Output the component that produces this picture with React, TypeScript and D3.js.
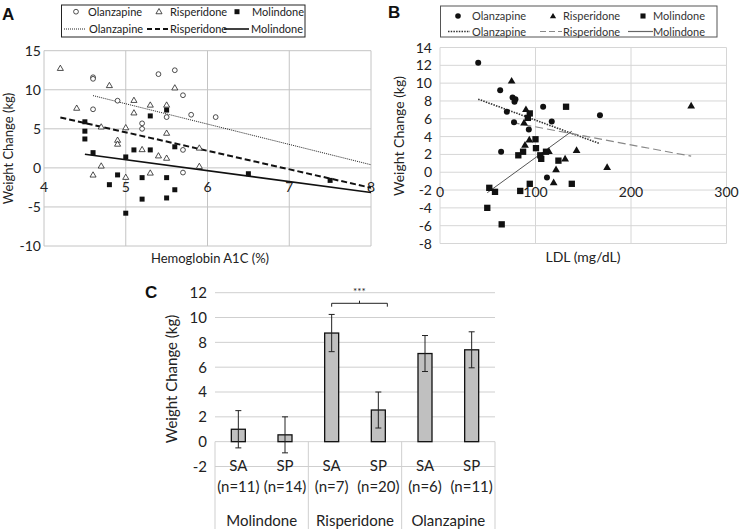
import React from 'react';
import * as d3 from 'd3';

const FONT = "Lato, 'Open Sans', sans-serif";
const TXT = '#222';

// ---------- Panel A: Hemoglobin A1C vs weight change ----------
const olzA: [number, number][] = [
  [4.6, 11.6], [4.6, 11.4], [5.4, 12.0], [5.6, 12.5], [5.7, 9.3], [4.9, 8.6], [4.6, 7.5],
  [5.5, 6.5], [5.8, 6.8], [6.1, 6.5], [5.2, 5.7], [5.2, 5.0], [5.7, 2.3], [5.7, -0.6],
];
const risA: [number, number][] = [
  [4.2, 12.7], [4.8, 10.5], [5.6, 10.2], [5.1, 8.6], [5.3, 8.0], [5.5, 8.0], [4.4, 7.6],
  [5.1, 7.0], [5.0, 5.1], [4.7, 5.2], [5.5, 4.4], [4.9, 3.5], [4.9, 3.0], [5.9, 2.5],
  [5.2, 2.3], [5.4, 1.5], [5.5, 1.2], [4.7, 0.2], [5.9, 0.15], [4.6, -0.95], [5.0, -1.25], [5.3, -0.7],
];
const molA: [number, number][] = [
  [5.5, 7.4], [5.3, 6.65], [4.5, 5.9], [4.5, 4.7], [4.5, 3.7], [5.6, 2.7], [4.6, 1.95],
  [5.1, 2.3], [5.3, 2.3], [5.0, 1.4], [4.9, -0.9], [5.2, -1.25], [5.5, -1.25], [4.8, -2.15],
  [5.6, -2.8], [5.2, -4.0], [5.5, -3.85], [5.0, -5.8], [6.5, -0.75], [7.5, -1.6],
];
const trendOlzA: [number, number][] = [[4.6, 9.25], [8, 0.4]];
const trendRisA: [number, number][] = [[4.2, 6.45], [8, -2.55]];
const trendMolA: [number, number][] = [[4.5, 1.75], [8, -3.15]];
const ticksAx = [4, 5, 6, 7, 8];
const ticksAy = [-10, -5, 0, 5, 10, 15];

// ---------- Panel B: LDL vs weight change ----------
const olzB: [number, number][] = [
  [40, 12.3], [63, 9.2], [76, 8.4], [79, 8.2], [78, 7.9], [108, 7.35], [70, 6.8], [117, 5.7],
  [77.5, 5.6], [93, 4.8], [167.5, 6.4], [64, 2.3], [112, -0.6],
];
const risB: [number, number][] = [
  [75, 10.2], [90, 7.0], [88, 5.5], [93.5, 3.6], [89, 3.0], [114, 2.3], [143, 2.4],
  [131, 1.45], [121.5, 0.25], [119, -1.2], [175, 0.5], [263, 7.4],
];
const molB: [number, number][] = [
  [132, 7.35], [94, 6.6], [92, 6.1], [100, 3.7], [82, 1.9], [87, 2.3], [100.5, 2.7], [105, 1.9],
  [106, 1.5], [111, 2.3], [124, 1.3], [94, -1.3], [138, -1.3], [51.6, -1.75], [57.6, -2.2],
  [84, -2.1], [49.5, -4.0], [64.6, -5.85],
];
const trendOlzB: [number, number][] = [[40, 8.2], [167.5, 3.2]];
const trendRisB: [number, number][] = [[75, 5.6], [263, 1.8]];
const trendMolB: [number, number][] = [[49.5, -2.3], [138, 4.6]];
const ticksBx = [0, 100, 200, 300];
const ticksBy = [-8, -6, -4, -2, 0, 2, 4, 6, 8, 10, 12, 14];

// ---------- Panel C: bar chart ----------
const subC = ['SA', 'SP', 'SA', 'SP', 'SA', 'SP'];
const nC = ['(n=11)', '(n=14)', '(n=7)', '(n=20)', '(n=6)', '(n=11)'];
const groupsC = ['Molindone', 'Risperidone', 'Olanzapine'];
const meansC = [1.0, 0.55, 8.75, 2.55, 7.1, 7.4];
const errC = [1.5, 1.45, 1.5, 1.45, 1.45, 1.45];
const ticksCy = [-2, 0, 2, 4, 6, 8, 10, 12];

const triA = d3.symbol(d3.symbolTriangle, 16)() as string;
const sqA = d3.symbol(d3.symbolSquare, 25)() as string;
const triB = d3.symbol(d3.symbolTriangle, 26)() as string;
const sqB = d3.symbol(d3.symbolSquare, 40)() as string;
const triBL = d3.symbol(d3.symbolTriangle, 17)() as string;
const sqBL = d3.symbol(d3.symbolSquare, 26)() as string;

function PanelA() {
  const x = d3.scaleLinear().domain([4, 8]).range([44, 371]);
  const y = d3.scaleLinear().domain([-10, 15]).range([246, 50.7]);
  const line = d3.line<[number, number]>().x(d => x(d[0])).y(d => y(d[1]));
  const grid = '#c4c4c4';
  return (
    <g>
      <text x={2} y={20} fontFamily="Liberation Sans, Arial" fontWeight="bold" fontSize={17} fill="#111">A</text>
      {/* legend */}
      <rect x={61.5} y={5} width={243.5} height={32} fill="white" stroke="#222" strokeWidth={1} />
      <circle cx={76} cy={11.7} r={2.4} fill="none" stroke="#222" strokeWidth={0.8} />
      <text x={88} y={15.8} fontFamily={FONT} fontSize={11} fill={TXT}>Olanzapine</text>
      <path d={triA} transform="translate(159,12)" fill="none" stroke="#222" strokeWidth={0.8} />
      <text x={170} y={15.8} fontFamily={FONT} fontSize={11} fill={TXT}>Risperidone</text>
      <path d={sqA} transform="translate(237,11.7)" fill="#111" />
      <text x={252} y={15.8} fontFamily={FONT} fontSize={11} fill={TXT}>Molindone</text>
      <line x1={64} x2={86} y1={29} y2={29} stroke="#222" strokeWidth={1} strokeDasharray="1,1" />
      <text x={89} y={33} fontFamily={FONT} fontSize={11} fill={TXT}>Olanzapine</text>
      <line x1={147} x2={168} y1={29} y2={29} stroke="#111" strokeWidth={2} strokeDasharray="5,3" />
      <text x={170} y={33} fontFamily={FONT} fontSize={11} fill={TXT}>Risperidone</text>
      <line x1={224} x2={249} y1={29} y2={29} stroke="#111" strokeWidth={1.6} />
      <text x={251} y={33} fontFamily={FONT} fontSize={11} fill={TXT}>Molindone</text>
      {/* grid */}
      {ticksAy.map(t => (
        <line key={'gy' + t} x1={x(4)} x2={x(8)} y1={y(t)} y2={y(t)} stroke={grid} strokeWidth={1} />
      ))}
      {ticksAx.map(t => (
        <line key={'gx' + t} x1={x(t)} x2={x(t)} y1={y(15)} y2={y(-10)} stroke={grid} strokeWidth={1} />
      ))}
      {ticksAy.map(t => (
        <text key={'ty' + t} x={41} y={y(t)} dy="0.36em" textAnchor="end" fontFamily={FONT} fontSize={14} fill={TXT}>{t}</text>
      ))}
      {ticksAx.map(t => (
        <text key={'tx' + t} x={x(t)} y={191.5} textAnchor="middle" fontFamily={FONT} fontSize={14} fill={TXT}>{t}</text>
      ))}
      <text x={210} y={263} textAnchor="middle" fontFamily={FONT} fontSize={13} fill={TXT}>Hemoglobin A1C (%)</text>
      <text transform="translate(12.5,148.5) rotate(-90)" textAnchor="middle" fontFamily={FONT} fontSize={13} fill={TXT}>Weight Change (kg)</text>
      {/* trend lines */}
      <path d={line(trendOlzA) as string} stroke="#222" strokeWidth={1} strokeDasharray="1,1" fill="none" />
      <path d={line(trendRisA) as string} stroke="#111" strokeWidth={2} strokeDasharray="6,3" fill="none" />
      <path d={line(trendMolA) as string} stroke="#111" strokeWidth={1.6} fill="none" />
      {/* points */}
      {olzA.map((d, i) => (
        <circle key={'o' + i} cx={x(d[0])} cy={y(d[1])} r={2.4} fill="white" stroke="#222" strokeWidth={0.8} />
      ))}
      {risA.map((d, i) => (
        <path key={'r' + i} d={triA} transform={`translate(${x(d[0])},${y(d[1])})`} fill="white" stroke="#222" strokeWidth={0.8} />
      ))}
      {molA.map((d, i) => (
        <path key={'m' + i} d={sqA} transform={`translate(${x(d[0])},${y(d[1])})`} fill="#111" />
      ))}
    </g>
  );
}

function PanelB() {
  const x = d3.scaleLinear().domain([0, 300]).range([440, 726.5]);
  const y = d3.scaleLinear().domain([-8, 14]).range([243.5, 47.5]);
  const line = d3.line<[number, number]>().x(d => x(d[0])).y(d => y(d[1]));
  const grid = '#d6d6d6';
  return (
    <g>
      <text x={388} y={18} fontFamily="Liberation Sans, Arial" fontWeight="bold" fontSize={17} fill="#111">B</text>
      {/* legend */}
      <rect x={440.5} y={6} width={276.5} height={31} fill="white" stroke="#555" strokeWidth={1} />
      <circle cx={458} cy={16} r={2.8} fill="#111" />
      <text x={472} y={20} fontFamily={FONT} fontSize={11} fill="#333">Olanzapine</text>
      <path d={triBL} transform="translate(553,16.5)" fill="#111" />
      <text x={563} y={20} fontFamily={FONT} fontSize={11} fill="#333">Risperidone</text>
      <path d={sqBL} transform="translate(643,16)" fill="#111" />
      <text x={653} y={20} fontFamily={FONT} fontSize={11} fill="#333">Molindone</text>
      <line x1={448} x2={470} y1={31.5} y2={31.5} stroke="#333" strokeWidth={1.6} strokeDasharray="1.5,1.2" />
      <text x={472} y={35.5} fontFamily={FONT} fontSize={11} fill="#333">Olanzapine</text>
      <line x1={540} x2={562} y1={31.5} y2={31.5} stroke="#888" strokeWidth={1.2} strokeDasharray="6,3" />
      <text x={563} y={35.5} fontFamily={FONT} fontSize={11} fill="#333">Risperidone</text>
      <line x1={628} x2={653} y1={31.5} y2={31.5} stroke="#666" strokeWidth={1.2} />
      <text x={653} y={35.5} fontFamily={FONT} fontSize={11} fill="#333">Molindone</text>
      {/* grid */}
      {ticksBy.map(t => (
        <line key={'gy' + t} x1={x(0)} x2={x(300)} y1={y(t)} y2={y(t)} stroke={grid} strokeWidth={1} />
      ))}
      {ticksBx.map(t => (
        <line key={'gx' + t} x1={x(t)} x2={x(t)} y1={y(14)} y2={y(-8)} stroke={grid} strokeWidth={1} />
      ))}
      {ticksBy.map(t => (
        <text key={'ty' + t} x={432} y={y(t)} dy="0.36em" textAnchor="end" fontFamily={FONT} fontSize={14} fill={TXT}>{t}</text>
      ))}
      {ticksBx.map(t => (
        <text key={'tx' + t} x={x(t)} y={196.5} textAnchor="middle" fontFamily={FONT} fontSize={14} fill={TXT}>{t}</text>
      ))}
      <text x={583} y={262} textAnchor="middle" fontFamily={FONT} fontSize={14} fill={TXT}>LDL (mg/dL)</text>
      <text transform="translate(404,136) rotate(-90)" textAnchor="middle" fontFamily={FONT} fontSize={14} fill={TXT}>Weight Change (kg)</text>
      {/* trend lines */}
      <path d={line(trendOlzB) as string} stroke="#333" strokeWidth={1.6} strokeDasharray="1.5,1.2" fill="none" />
      <path d={line(trendRisB) as string} stroke="#888" strokeWidth={1.2} strokeDasharray="8,4" fill="none" />
      <path d={line(trendMolB) as string} stroke="#555" strokeWidth={1} fill="none" />
      {/* points */}
      {olzB.map((d, i) => (
        <circle key={'o' + i} cx={x(d[0])} cy={y(d[1])} r={3} fill="#111" />
      ))}
      {risB.map((d, i) => (
        <path key={'r' + i} d={triB} transform={`translate(${x(d[0])},${y(d[1])})`} fill="#111" />
      ))}
      {molB.map((d, i) => (
        <path key={'m' + i} d={sqB} transform={`translate(${x(d[0])},${y(d[1])})`} fill="#111" />
      ))}
    </g>
  );
}

function PanelC() {
  const keys = subC.map((_, i) => String(i));
  const x = d3.scaleBand<string>().domain(keys).range([215, 495]).padding(0);
  const y = d3.scaleLinear().domain([-2, 12]).range([466.5, 292.7]);
  const bw = x.bandwidth() * 0.3;
  const grid = '#cfcfcf';
  const cx = (i: number) => (x(String(i)) as number) + x.bandwidth() / 2;
  const brL = cx(2);
  const brR = cx(3) + 9;
  const brY = 303.3;
  return (
    <g>
      <text x={145} y={298} fontFamily="Liberation Sans, Arial" fontWeight="bold" fontSize={17} fill="#111">C</text>
      {ticksCy.map(t => (
        <line key={'gy' + t} x1={215} x2={495} y1={y(t)} y2={y(t)} stroke={grid} strokeWidth={1} />
      ))}
      {ticksCy.map(t => (
        <text key={'ty' + t} x={207} y={y(t)} dy="0.36em" textAnchor="end" fontFamily={FONT} fontSize={15} fill={TXT}>{t}</text>
      ))}
      <text transform="translate(177,379) rotate(-90)" textAnchor="middle" fontFamily={FONT} fontSize={15} fill={TXT}>Weight Change (kg)</text>
      {/* group separators */}
      {[0, 2, 4, 6].map(i => {
        const xx = i < 6 ? (x(String(i)) as number) : 495;
        return <line key={'sep' + i} x1={xx} x2={xx} y1={y(0)} y2={529} stroke={grid} strokeWidth={1} />;
      })}
      {/* bars */}
      {meansC.map((m, i) => (
        <rect key={'b' + i} x={cx(i) - bw / 2} y={y(Math.max(m, 0))} width={bw} height={Math.abs(y(m) - y(0))}
          fill="#c0c0c0" stroke="#111" strokeWidth={1.3} />
      ))}
      {meansC.map((m, i) => (
        <g key={'e' + i} stroke="#222" strokeWidth={1}>
          <line x1={cx(i)} x2={cx(i)} y1={y(m + errC[i])} y2={y(m - errC[i])} />
          <line x1={cx(i) - 3} x2={cx(i) + 3} y1={y(m + errC[i])} y2={y(m + errC[i])} />
          <line x1={cx(i) - 3} x2={cx(i) + 3} y1={y(m - errC[i])} y2={y(m - errC[i])} />
        </g>
      ))}
      {/* significance */}
      <path d={`M${brL},${brY + 3.4}V${brY}H${brR}V${brY + 3.4}M${(brL + brR) / 2},${brY}V${brY - 2.6}`} fill="none" stroke="#222" strokeWidth={1} />
      <text x={(brL + brR) / 2} y={295} textAnchor="middle" fontFamily={FONT} fontSize={10} fill="#222">***</text>
      {/* category labels */}
      {subC.map((s, i) => (
        <text key={'s' + i} x={cx(i)} y={471} textAnchor="middle" fontFamily={FONT} fontSize={15} fill={TXT}>{s}</text>
      ))}
      {nC.map((s, i) => (
        <text key={'n' + i} x={cx(i)} y={492} textAnchor="middle" fontFamily={FONT} fontSize={15} fill={TXT}>{s}</text>
      ))}
      {groupsC.map((g, j) => (
        <text key={'g' + j} x={((x(String(j * 2)) as number) + (x(String(j * 2 + 1)) as number) + x.bandwidth()) / 2} y={526}
          textAnchor="middle" fontFamily={FONT} fontSize={15} fill={TXT}>{g}</text>
      ))}
    </g>
  );
}

export default function App() {
  return (
    <svg width={741} height={531} viewBox="0 0 741 531"
      style={{ position: 'absolute', left: 0, top: 0, background: 'white' }}>
      <rect x={0} y={0} width={741} height={531} fill="white" />
      <PanelA />
      <PanelB />
      <PanelC />
    </svg>
  );
}
